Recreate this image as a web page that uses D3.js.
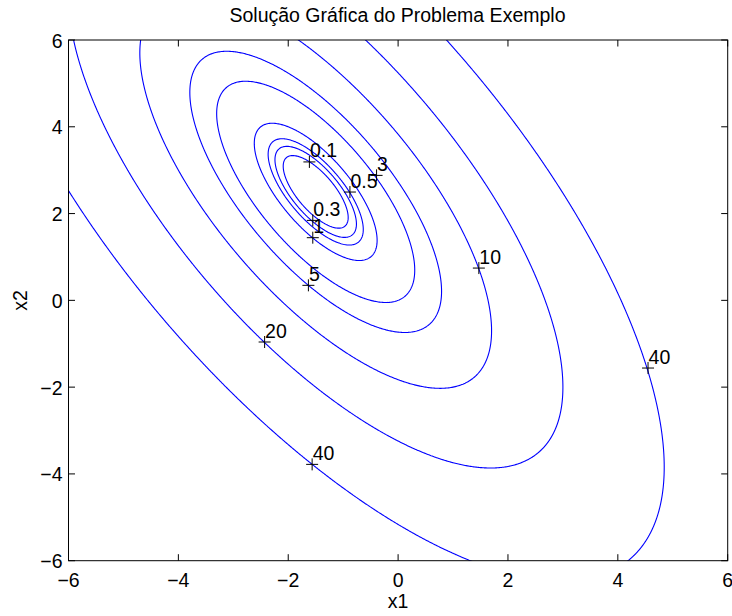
<!DOCTYPE html>
<html><head><meta charset="utf-8">
<script src="https://cdn.jsdelivr.net/npm/d3@7"></script>
<style>body{margin:0;background:#fff}svg{display:block}text{font-family:"Liberation Sans",Arial,Helvetica,sans-serif}</style>
</head><body>
<script>
// f(x1,x2) = c0*x1^2 + c1*x1*x2 + c2*x2^2 + c3*x1 + c4*x2 + c5
const coef = [2, 2, 1, 1, -2, 3];
const levels = [0.1, 0.3, 0.5, 1, 3, 5, 10, 20, 40];
const labelX = [-1.615, -1.553, -0.877, -1.553, -0.392, -1.633, 1.47, -2.43, -1.565, 4.55];
const labelY = [3.19, 1.843, 2.496, 1.444, 2.88, 0.346, 0.744, -0.96, -3.78, -1.56];
const labelText = ["0.1", "0.3", "0.5", "1", "3", "5", "10", "20", "40", "40"];
const xTicks = [-6, -4, -2, 0, 2, 4, 6];
const yTicks = [-6, -4, -2, 0, 2, 4, 6];
const title = "Solução Gráfica do Problema Exemplo";

const W = 732, H = 616;
const L = 68.5, R = 727.7, T = 40, B = 560.7;
const FS = 19.5;
const svg = d3.select("body").append("svg").attr("width", W).attr("height", H);
const x = d3.scaleLinear().domain([-6, 6]).range([L, R]);
const y = d3.scaleLinear().domain([-6, 6]).range([B, T]);

// grid with margin beyond the visible region
const gmin = -6.6, gmax = 6.6, step = 0.02;
const n = Math.round((gmax - gmin) / step) + 1;
const vals = new Float64Array(n * n);
for (let j = 0; j < n; j++) {
  const yy = gmin + j * step;
  for (let i = 0; i < n; i++) {
    const xx = gmin + i * step;
    vals[j * n + i] = coef[0]*xx*xx + coef[1]*xx*yy + coef[2]*yy*yy + coef[3]*xx + coef[4]*yy + coef[5];
  }
}
const contours = d3.contours().size([n, n]).thresholds(levels)(vals);
const proj = d3.geoTransform({
  point: function(px, py) {
    this.stream.point(x(gmin + (px - 0.5) * step), y(gmin + (py - 0.5) * step));
  }
});
const path = d3.geoPath(proj);

svg.append("clipPath").attr("id", "clip").append("rect")
  .attr("x", L).attr("y", T).attr("width", R - L).attr("height", B - T);

svg.append("g").attr("clip-path", "url(#clip)")
  .selectAll("path").data(contours).join("path")
  .attr("d", path).attr("fill", "none").attr("stroke", "#0000ff").attr("stroke-width", 1.1);

// axes box
const ax = svg.append("g");
ax.append("rect").attr("x", L).attr("y", T).attr("width", R - L).attr("height", B - T)
  .attr("fill", "none").attr("stroke", "#000").attr("stroke-width", 1);

const tl = 6.5;
ax.selectAll(".xt").data(xTicks).join("g").each(function(d) {
  const g = d3.select(this);
  g.append("line").attr("x1", x(d)).attr("x2", x(d)).attr("y1", B).attr("y2", B - tl).attr("stroke", "#000");
  g.append("line").attr("x1", x(d)).attr("x2", x(d)).attr("y1", T).attr("y2", T + tl).attr("stroke", "#000");
  g.append("text").attr("x", x(d)).attr("y", 587).attr("text-anchor", "middle").attr("font-size", FS)
    .text(d < 0 ? "\u2212" + Math.abs(d) : d);
});
ax.selectAll(".yt").data(yTicks).join("g").each(function(d) {
  const g = d3.select(this);
  g.append("line").attr("x1", L).attr("x2", L + tl).attr("y1", y(d)).attr("y2", y(d)).attr("stroke", "#000");
  g.append("line").attr("x1", R).attr("x2", R - tl).attr("y1", y(d)).attr("y2", y(d)).attr("stroke", "#000");
  g.append("text").attr("x", 62.5).attr("y", y(d) + 7.5).attr("text-anchor", "end").attr("font-size", FS)
    .text(d < 0 ? "\u2212" + Math.abs(d) : d);
});

svg.append("text").attr("x", x(0)).attr("y", 608).attr("text-anchor", "middle").attr("font-size", FS).text("x1");
svg.append("text").attr("transform", "translate(26.5," + y(0) + ") rotate(-90)")
  .attr("text-anchor", "middle").attr("font-size", FS).text("x2");
svg.append("text").attr("x", 397.5).attr("y", 22).attr("text-anchor", "middle").attr("font-size", FS).text(title);

// contour labels with + markers
const lab = svg.append("g");
labelText.forEach((t, i) => {
  const px = x(labelX[i]), py = y(labelY[i]);
  lab.append("line").attr("x1", px - 6).attr("x2", px + 6).attr("y1", py).attr("y2", py).attr("stroke", "#000");
  lab.append("line").attr("x1", px).attr("x2", px).attr("y1", py - 6).attr("y2", py + 6).attr("stroke", "#000");
  lab.append("text").attr("x", px + 0.5).attr("y", py - 4.5).attr("font-size", FS).text(t);
});
</script>
</body></html>
